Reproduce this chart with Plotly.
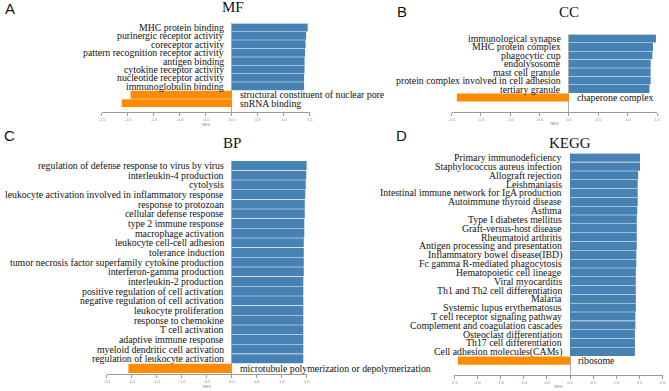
import plotly.graph_objects as go

W, H = 669, 391

# ---------------- data ----------------
mf_terms = ["MHC protein binding", "purinergic receptor activity", "coreceptor activity",
            "pattern recognition receptor activity", "antigen binding", "cytokine receptor activity",
            "nucleotide receptor activity", "immunoglobulin binding",
            "structural constituent of nuclear pore", "snRNA binding"]
mf_nes = [1.46, 1.43, 1.42, 1.41, 1.40, 1.40, 1.39, 1.39, -1.95, -2.12]

cc_terms = ["immunological synapse", "MHC protein complex", "phagocytic cup", "endolysosome",
            "mast cell granule", "protein complex involved in cell adhesion", "tertiary granule",
            "chaperone complex"]
cc_nes = [1.48, 1.43, 1.42, 1.39, 1.39, 1.39, 1.37, -1.91]

bp_terms = ["regulation of defense response to virus by virus", "interleukin-4 production", "cytolysis",
            "leukocyte activation involved in inflammatory response", "response to protozoan",
            "cellular defense response", "type 2 immune response", "macrophage activation",
            "leukocyte cell-cell adhesion", "tolerance induction",
            "tumor necrosis factor superfamily cytokine production", "interferon-gamma production",
            "interleukin-2 production", "positive regulation of cell activation",
            "negative regulation of cell activation", "leukocyte proliferation", "response to chemokine",
            "T cell activation", "adaptive immune response", "myeloid dendritic cell activation",
            "regulation of leukocyte activation", "microtubule polymerization or depolymerization"]
bp_nes = [1.50, 1.49, 1.48, 1.47, 1.46, 1.46, 1.45, 1.45, 1.44, 1.44, 1.44, 1.44, 1.43, 1.43,
          1.43, 1.43, 1.43, 1.43, 1.43, 1.43, 1.43, -2.07]

kegg_terms = ["Primary immunodeficiency", "Staphylococcus aureus infection", "Allograft rejection",
              "Leishmaniasis", "Intestinal immune network for IgA production", "Autoimmune thyroid disease",
              "Asthma", "Type I diabetes mellitus", "Graft-versus-host disease", "Rheumatoid arthritis",
              "Antigen processing and presentation", "Inflammatory bowel disease(IBD)",
              "Fc gamma R-mediated phagocytosis", "Hematopoietic cell lineage", "Viral myocarditis",
              "Th1 and Th2 cell differentiation", "Malaria", "Systemic lupus erythematosus",
              "T cell receptor signaling pathway", "Complement and coagulation cascades",
              "Osteoclast differentiation", "Th17 cell differentiation", "Cell adhesion molecules(CAMs)",
              "ribosome"]
kegg_nes = [1.51, 1.51, 1.47, 1.46, 1.46, 1.46, 1.45, 1.44, 1.44, 1.44, 1.44, 1.43, 1.43, 1.42,
            1.42, 1.42, 1.42, 1.42, 1.41, 1.41, 1.40, 1.40, 1.40, -2.42]

mf_ticks = [-2.5, -2.0, -1.5, -1.0, -0.5, 0.0, 0.5, 1.0, 1.5]
cc_ticks = [-2.0, -1.5, -1.0, -0.5, 0.0, 0.5, 1.0, 1.5]
bp_ticks = [-2.5, -2.0, -1.5, -1.0, -0.5, 0.0, 0.5, 1.0, 1.5]
kegg_ticks = [-2.5, -2.0, -1.5, -1.0, -0.5, 0.0, 0.5, 1.0, 1.5, 2.0]

# ---------------- layout geometry (pixels) ----------------
panels = [
    # title, letter, terms, values, ticks, x0px, x1px, bar_top, pitch, axis_y, title_pos, letter_pos
    ("MF", "A", mf_terms, mf_nes, mf_ticks, 100, 310, 23.3, 8.4, 112, (232, 7), (7, 8)),
    ("CC", "B", cc_terms, cc_nes, cc_ticks, 453.3, 661, 34.3, 8.42, 112, (572, 12), (403, 12)),
    ("BP", "C", bp_terms, bp_nes, bp_ticks, 105, 307, 160.7, 9.66, 374.3, (231, 143), (7, 135)),
    ("KEGG", "D", kegg_terms, kegg_nes, kegg_ticks, 456, 666.7, 153.3, 8.82, 375.3, (573, 143), (403, 135)),
]

BLUE = "#4682b4"
ORANGE = "#ff8c00"
SERIF = "Liberation Serif, Times New Roman, serif"
SANS = "Liberation Sans, Arial, sans-serif"

fig = go.Figure()
layout = dict(width=W, height=H, margin=dict(l=0, r=0, t=0, b=0),
              paper_bgcolor="white", plot_bgcolor="white", showlegend=False,
              bargap=0.06)
annotations = []

for i, (title, letter, terms, vals, ticks, x0, x1, top, pitch, axy, tpos, lpos) in enumerate(panels):
    n = len(terms)
    xa = "x" if i == 0 else f"x{i+1}"
    ya = "y" if i == 0 else f"y{i+1}"
    xk = "xaxis" if i == 0 else f"xaxis{i+1}"
    yk = "yaxis" if i == 0 else f"yaxis{i+1}"
    colors = [BLUE if v > 0 else ORANGE for v in vals]
    fig.add_trace(go.Bar(x=vals, y=terms, orientation="h", marker=dict(color=colors, line=dict(width=0)),
                         xaxis=xa, yaxis=ya, hoverinfo="x+y"))
    bottom_extra = (axy - (top + n * pitch)) / pitch
    layout[xk] = dict(domain=[x0 / W, x1 / W], range=[ticks[0], ticks[-1]], anchor=ya,
                      tickvals=ticks, ticktext=[f"{t:.1f}" for t in ticks],
                      showline=True, linecolor="#9a9a9a", linewidth=1,
                      ticks="outside", ticklen=3, tickcolor="#9a9a9a", tickwidth=1,
                      tickfont=dict(size=4, color="#888", family=SANS),
                      showgrid=False, zeroline=True, zerolinecolor="#b0b0b0", zerolinewidth=1,
                      title=dict(text="NES", font=dict(size=4, color="#888", family=SANS), standoff=1),
                      fixedrange=True)
    layout[yk] = dict(domain=[1 - axy / H, 1 - top / H], anchor=xa, type="category",
                      categoryorder="array", categoryarray=terms,
                      range=[n - 0.5 + bottom_extra, -0.5],
                      showticklabels=False, showgrid=False, zeroline=False, showline=False, ticks="",
                      fixedrange=True)
    for t, v in zip(terms, vals):
        annotations.append(dict(x=0, y=t, xref=xa, yref=ya, text=t, showarrow=False,
                                xanchor="right" if v > 0 else "left",
                                xshift=-6 if v > 0 else 6, yanchor="middle",
                                font=dict(family=SERIF, size=9.8, color="#111")))
    annotations.append(dict(x=tpos[0] / W, y=1 - tpos[1] / H, xref="paper", yref="paper", text=title,
                            showarrow=False, xanchor="center", yanchor="middle",
                            font=dict(family=SERIF, size=15, color="#111")))
    annotations.append(dict(x=lpos[0] / W, y=1 - lpos[1] / H, xref="paper", yref="paper", text=letter,
                            showarrow=False, xanchor="center", yanchor="middle",
                            font=dict(family=SANS, size=15, color="#111")))

layout["annotations"] = annotations
fig.update_layout(**layout)
fig.write_html("out.html", config={"displayModeBar": False},
               post_script="document.body.style.margin='0';document.body.style.overflow='hidden';")
